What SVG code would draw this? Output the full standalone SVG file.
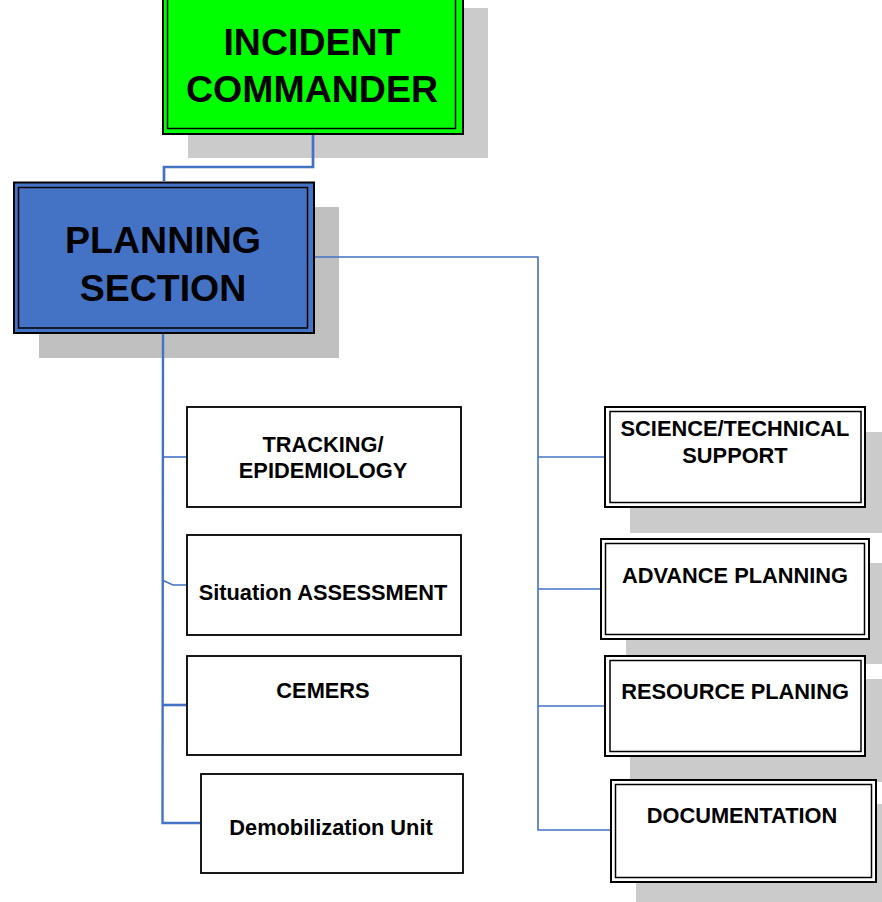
<svg xmlns="http://www.w3.org/2000/svg" width="882" height="902" viewBox="0 0 882 902">
<style>
text{font-family:"Liberation Sans",Arial,sans-serif;font-weight:bold;fill:#000;text-anchor:middle}
.big{font-size:37.5px}
.small{font-size:21.8px}
.shadow{fill:#cbcbcb}
.shadow2{fill:#c0c0c0}
.inner{fill:none;stroke:#000;stroke-width:1.5}
.box{fill:#fff;stroke:#000;stroke-width:1.8}
.conn{fill:none;stroke:#4472c4;stroke-linejoin:miter}
</style>
<rect width="882" height="902" fill="#fff"/>

<g id="incident-commander">
  <rect class="shadow" x="188" y="8" width="300" height="150"/>
  <rect x="163" y="-10" width="300" height="144" fill="#00ff00" stroke="#000" stroke-width="2"/>
  <polyline class="inner" points="167.5,-10 167.5,128.5 455.5,128.5 455.5,-10"/>
  <text class="big" x="312" y="55">INCIDENT</text>
  <text class="big" x="312" y="102">COMMANDER</text>
</g>

<g id="planning-section">
  <rect class="shadow2" x="39" y="207" width="300" height="151"/>
  <rect x="14" y="182.5" width="300" height="150.5" fill="#4472c4" stroke="#000" stroke-width="2"/>
  <rect class="inner" x="18.5" y="187.5" width="289" height="140.5"/>
  <text class="big" x="163" y="253">PLANNING</text>
  <text class="big" x="163" y="301">SECTION</text>
</g>

<g id="tracking">
  <rect class="box" x="187" y="407" width="274" height="100"/>
  <text class="small" x="323" y="452">TRACKING/</text>
  <text class="small" x="323" y="478">EPIDEMIOLOGY</text>
</g>

<g id="situation">
  <rect class="box" x="187" y="535" width="274" height="100"/>
  <text class="small" x="323" y="600">Situation ASSESSMENT</text>
</g>

<g id="cemers">
  <rect class="box" x="187" y="656" width="274" height="99"/>
  <text class="small" x="323" y="698">CEMERS</text>
</g>

<g id="demobilization">
  <rect class="box" x="201" y="774" width="262" height="99"/>
  <text class="small" x="331" y="835">Demobilization Unit</text>
</g>

<g id="science">
  <rect class="shadow" x="630" y="432" width="260" height="101"/>
  <rect x="605" y="407" width="260" height="100" fill="#fff" stroke="#000" stroke-width="2"/>
  <rect class="inner" x="610" y="411.5" width="251" height="91"/>
  <text class="small" x="735" y="436">SCIENCE/TECHNICAL</text>
  <text class="small" x="735" y="463">SUPPORT</text>
</g>

<g id="advance">
  <rect class="shadow" x="626" y="563" width="268" height="101"/>
  <rect x="601" y="539" width="268" height="100" fill="#fff" stroke="#000" stroke-width="2"/>
  <rect class="inner" x="605.5" y="543.5" width="259" height="91"/>
  <text class="small" x="735" y="583">ADVANCE PLANNING</text>
</g>

<g id="resource">
  <rect class="shadow" x="630" y="679" width="260" height="103"/>
  <rect x="605" y="656" width="260" height="100" fill="#fff" stroke="#000" stroke-width="2"/>
  <rect class="inner" x="610" y="660.5" width="251" height="91"/>
  <text class="small" x="735" y="699">RESOURCE PLANING</text>
</g>

<g id="documentation">
  <rect class="shadow" x="636" y="804" width="265" height="100"/>
  <rect x="611" y="780" width="265" height="102" fill="#fff" stroke="#000" stroke-width="2"/>
  <rect class="inner" x="615.5" y="784.5" width="256" height="93"/>
  <text class="small" x="742" y="823">DOCUMENTATION</text>
</g>

<g id="connectors">
  <polyline class="conn" stroke-width="2.7" points="313,135 313,167 164,167 164,181.5"/>
  <polyline class="conn" stroke-width="1.6" points="315,257 538,257 538,830 610,830"/>
  <line class="conn" stroke-width="1.6" x1="538" y1="457" x2="604" y2="457"/>
  <line class="conn" stroke-width="1.6" x1="538" y1="589" x2="600" y2="589"/>
  <line class="conn" stroke-width="1.6" x1="538" y1="706" x2="604" y2="706"/>
  <polyline class="conn" stroke-width="2.4" points="163,334 162.5,823 200,823"/>
  <line class="conn" stroke-width="1.6" x1="162" y1="457" x2="186" y2="457"/>
  <polyline class="conn" stroke-width="1.6" points="162,580 173,585 186,585"/>
  <line class="conn" stroke-width="2.6" x1="162" y1="705" x2="186" y2="705"/>
</g>
</svg>
